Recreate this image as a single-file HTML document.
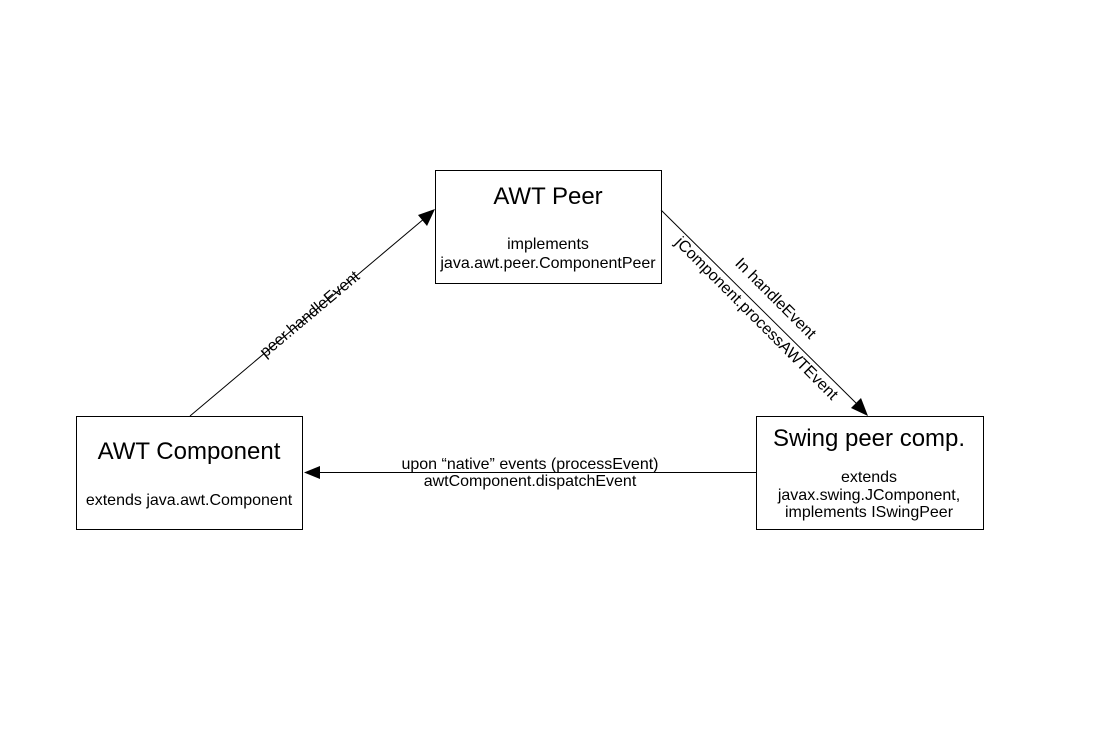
<!DOCTYPE html>
<html><head><style>
body{margin:0;background:#fff;}
svg{display:block;font-family:"Liberation Sans",Arial,sans-serif;}
</style></head><body>
<svg width="1096" height="739" viewBox="0 0 1096 739">
<rect width="1096" height="739" fill="#fff"/>
<g fill="#fff" stroke="#000" stroke-width="1">
<rect x="435.5" y="170.5" width="226" height="113"/>
<rect x="76.5" y="416.5" width="226" height="113"/>
<rect x="756.5" y="416.5" width="227" height="113"/>
</g>
<g fill="#000" text-anchor="middle">
<text x="548" y="204" font-size="24">AWT Peer</text>
<text x="548" y="249" font-size="16">implements</text>
<text x="548" y="268" font-size="16">java.awt.peer.ComponentPeer</text>
<text x="189" y="459" font-size="24">AWT Component</text>
<text x="189" y="505" font-size="16">extends java.awt.Component</text>
<text x="869" y="446" font-size="24">Swing peer comp.</text>
<text x="869" y="482" font-size="16">extends</text>
<text x="869" y="500" font-size="16">javax.swing.JComponent,</text>
<text x="869" y="517" font-size="16">implements ISwingPeer</text>
</g>
<g stroke="#000" stroke-width="1" fill="none">
<line x1="190" y1="416" x2="425" y2="218"/>
<line x1="661" y1="210" x2="858" y2="405"/>
<line x1="756" y1="472.5" x2="318" y2="472.5"/>
</g>
<g fill="#000">
<polygon points="435,209 427,226 418,215"/>
<polygon points="868,416 851,408 861,398"/>
<polygon points="304,472.5 320,466 320,479"/>
</g>
<g font-size="16" fill="#000" text-anchor="middle">
<text x="530" y="469">upon “native” events (processEvent)</text>
<text x="530" y="486">awtComponent.dispatchEvent</text>
<text transform="translate(313,318) rotate(-40)" x="0" y="0">peer.handleEvent</text>
<text transform="translate(772,302) rotate(45)" x="0" y="0">In handleEvent</text>
<text transform="translate(753,322) rotate(45)" x="0" y="0">jComponent.processAWTEvent</text>
</g>
</svg>
</body></html>
